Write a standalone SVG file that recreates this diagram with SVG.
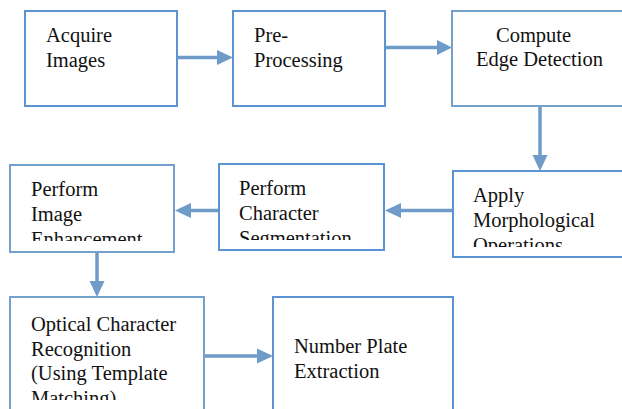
<svg xmlns="http://www.w3.org/2000/svg" width="622" height="409" viewBox="0 0 622 409">
<style>
.box{fill:#fff;stroke:#5b93d3;stroke-width:2}
.box2{fill:#fff;stroke:#74a0cc;stroke-width:2}
.con{stroke:#6e9bc8;stroke-width:3.5;fill:none}
.head{fill:#6e9bc8}
</style>
<defs>
<clipPath id="c5"><rect x="450" y="170" width="172" height="77"/></clipPath>
<clipPath id="c6"><rect x="218" y="163" width="168" height="77"/></clipPath>
<clipPath id="c7"><rect x="9" y="164" width="168" height="77"/></clipPath>
<clipPath id="c8"><rect x="9" y="296" width="198" height="104"/></clipPath>
</defs>
<rect width="622" height="409" fill="#fff"/>
<g font-family="Liberation Serif, Tinos, Times New Roman, Times, DejaVu Serif, Noto Serif, serif" font-size="20.5" fill="#111">
<g id="n1"><rect class="box" x="25" y="11" width="152" height="95"/><text x="46" y="42">Acquire</text><text x="46" y="67">Images</text></g>
<g id="n2"><rect class="box" x="233" y="11" width="152" height="95"/><text x="254" y="42">Pre-</text><text x="254" y="67">Processing</text></g>
<g id="n3"><rect class="box2" x="452" y="11" width="175" height="95"/><text x="496" y="42">Compute</text><text x="476" y="66">Edge Detection</text></g>
<g id="n4"><rect class="box" x="453" y="171" width="175" height="86"/><g clip-path="url(#c5)"><text x="473" y="202">Apply</text><text x="473" y="227">Morphological</text><text x="473" y="252">Operations</text></g></g>
<g id="n5"><rect class="box" x="219" y="164" width="165" height="86"/><g clip-path="url(#c6)"><text x="239" y="195">Perform</text><text x="239" y="220">Character</text><text x="239" y="245">Segmentation</text></g></g>
<g id="n6"><rect class="box2" x="10" y="165" width="164" height="87"/><g clip-path="url(#c7)"><text x="31" y="196">Perform</text><text x="31" y="221">Image</text><text x="31" y="246">Enhancement</text></g></g>
<g id="n7"><rect class="box2" x="10" y="297" width="194" height="130"/><g clip-path="url(#c8)"><text x="31" y="331">Optical Character</text><text x="31" y="355.5">Recognition</text><text x="31" y="380">(Using Template</text><text x="31" y="404.5">Matching)</text></g></g>
<g id="n8"><rect class="box" x="273" y="297" width="180" height="130"/><text x="294" y="353">Number Plate</text><text x="294" y="378">Extraction</text></g>
</g>
<g id="connectors">
<line class="con" x1="178" y1="57.5" x2="218" y2="57.5"/><polygon class="head" points="217,50 233,57.5 217,65"/>
<line class="con" x1="386" y1="47.5" x2="438" y2="47.5"/><polygon class="head" points="437,40 452,47.5 437,55"/>
<line class="con" x1="540" y1="107" x2="540" y2="156"/><polygon class="head" points="532.5,155 540,171 547.5,155"/>
<line class="con" x1="452" y1="210.5" x2="400" y2="210.5"/><polygon class="head" points="401,203 385,210.5 401,218"/>
<line class="con" x1="218" y1="210.5" x2="190" y2="210.5"/><polygon class="head" points="191,203 175,210.5 191,218"/>
<line class="con" x1="97" y1="253" x2="97" y2="282"/><polygon class="head" points="89.5,281 97,297 104.5,281"/>
<line class="con" x1="205" y1="356" x2="258" y2="356"/><polygon class="head" points="257,348.5 273,356 257,363.5"/>
</g>
</svg>
